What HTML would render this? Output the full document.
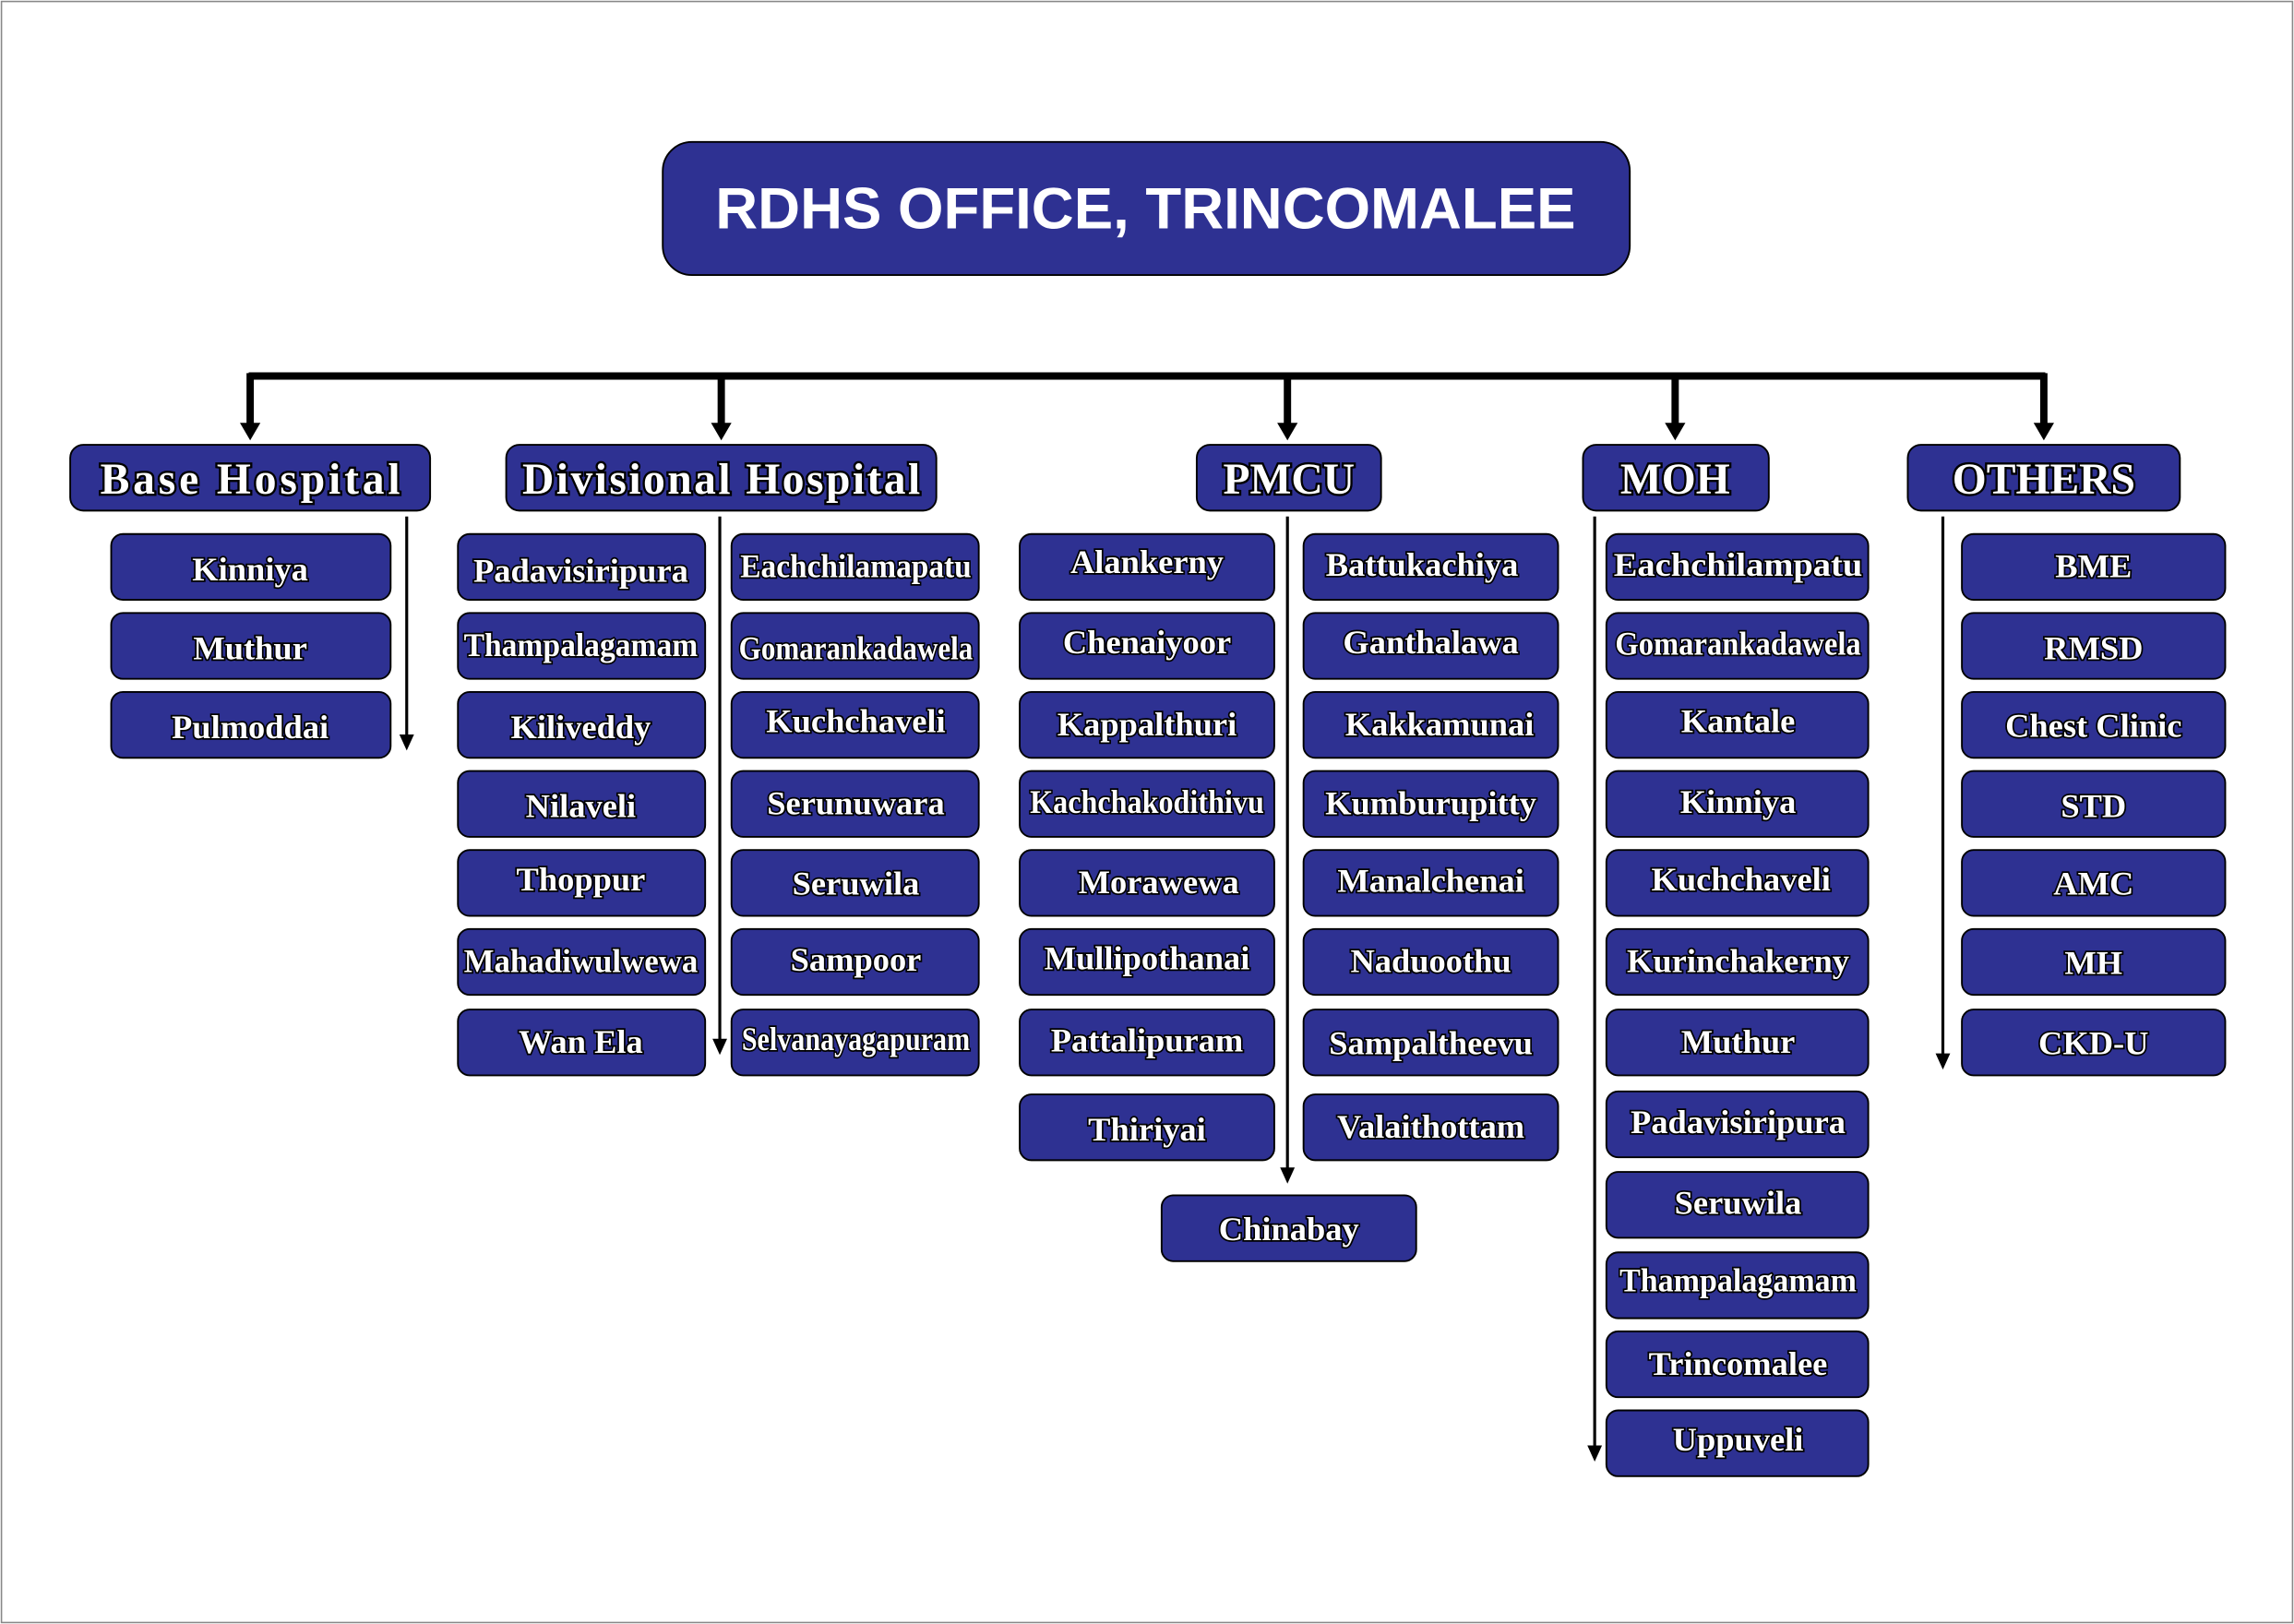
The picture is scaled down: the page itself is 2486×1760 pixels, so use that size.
<!DOCTYPE html>
<html><head><meta charset="utf-8"><style>
html,body{margin:0;padding:0;background:#fff}
svg{display:block}
.b{fill:#2e3192;stroke:#000;stroke-width:1.2}
.t{font-family:"Liberation Serif",serif;font-weight:bold;fill:#fff;stroke:#000;stroke-width:2.2;paint-order:stroke;text-anchor:middle;dominant-baseline:central;font-size:23px}
.c{font-size:30px;stroke-width:3}
.l{stroke:#000;stroke-width:2;fill:none}
</style></head><body>
<svg width="2486" height="1760" viewBox="0 0 1568 1110" preserveAspectRatio="none">
<rect x="1" y="1" width="1566" height="1108" fill="#fff" stroke="#888" stroke-width="1"/>
<rect class="b" x="453" y="97" width="661" height="91" rx="20"/>
<text x="783" y="143" text-anchor="middle" dominant-baseline="central" font-family="Liberation Sans,sans-serif" font-weight="bold" font-size="40" fill="#fff" textLength="588" lengthAdjust="spacingAndGlyphs">RDHS OFFICE, TRINCOMALEE</text>
<path d="M170 257H1398" stroke="#000" stroke-width="5"/>
<g stroke="#000" stroke-width="5">
<path d="M171 255V291M493 255V291M880 255V291M1145 255V291M1397 255V291"/></g>
<g fill="#000">
<path d="M164 289h14l-7 12z"/><path d="M486 289h14l-7 12z"/><path d="M873 289h14l-7 12z"/><path d="M1138 289h14l-7 12z"/><path d="M1390 289h14l-7 12z"/>
</g>
<rect class="b" x="48" y="304" width="246" height="45" rx="9"/><text class="t c" x="171" y="328" textLength="205" lengthAdjust="spacing">Base Hospital</text>
<rect class="b" x="346" y="304" width="294" height="45" rx="9"/><text class="t c" x="493" y="328" textLength="272" lengthAdjust="spacing">Divisional Hospital</text>
<rect class="b" x="818" y="304" width="126" height="45" rx="9"/><text class="t c" x="881" y="328">PMCU</text>
<rect class="b" x="1082" y="304" width="127" height="45" rx="9"/><text class="t c" x="1145" y="328">MOH</text>
<rect class="b" x="1304" y="304" width="186" height="45" rx="9"/><text class="t c" x="1397" y="328">OTHERS</text>
<path class="l" d="M278 353V504M492 353V712M880 353V800M1090 353V990M1328 353V722"/>
<g fill="#000">
<path d="M273 502h10l-5 11z"/><path d="M487 710h10l-5 11z"/><path d="M875 798h10l-5 11z"/><path d="M1085 988h10l-5 11z"/><path d="M1323 720h10l-5 11z"/>
</g>
<g>
<rect class="b" x="76" y="365" width="191" height="45" rx="8"/><text class="t" x="171" y="389">Kinniya</text>
<rect class="b" x="76" y="419" width="191" height="45" rx="8"/><text class="t" x="171" y="443">Muthur</text>
<rect class="b" x="76" y="473" width="191" height="45" rx="8"/><text class="t" x="171" y="497">Pulmoddai</text>
</g>
<g>
<rect class="b" x="313" y="365" width="169" height="45" rx="8"/><text class="t" x="397" y="390" font-size="21">Padavisiripura</text>
<rect class="b" x="313" y="419" width="169" height="45" rx="8"/><text class="t" x="397" y="441" textLength="160" lengthAdjust="spacingAndGlyphs">Thampalagamam</text>
<rect class="b" x="313" y="473" width="169" height="45" rx="8"/><text class="t" x="397" y="497">Kiliveddy</text>
<rect class="b" x="313" y="527" width="169" height="45" rx="8"/><text class="t" x="397" y="551">Nilaveli</text>
<rect class="b" x="313" y="581" width="169" height="45" rx="8"/><text class="t" x="397" y="601">Thoppur</text>
<rect class="b" x="313" y="635" width="169" height="45" rx="8"/><text class="t" x="397" y="657" textLength="160" lengthAdjust="spacingAndGlyphs">Mahadiwulwewa</text>
<rect class="b" x="313" y="690" width="169" height="45" rx="8"/><text class="t" x="397" y="712">Wan Ela</text>
</g>
<g>
<rect class="b" x="500" y="365" width="169" height="45" rx="8"/><text class="t" x="585" y="387" textLength="158" lengthAdjust="spacingAndGlyphs" font-size="19">Eachchilamapatu</text>
<rect class="b" x="500" y="419" width="169" height="45" rx="8"/><text class="t" x="585" y="443" textLength="160" lengthAdjust="spacingAndGlyphs" font-size="19">Gomarankadawela</text>
<rect class="b" x="500" y="473" width="169" height="45" rx="8"/><text class="t" x="585" y="493">Kuchchaveli</text>
<rect class="b" x="500" y="527" width="169" height="45" rx="8"/><text class="t" x="585" y="549">Serunuwara</text>
<rect class="b" x="500" y="581" width="169" height="45" rx="8"/><text class="t" x="585" y="604">Seruwila</text>
<rect class="b" x="500" y="635" width="169" height="45" rx="8"/><text class="t" x="585" y="656">Sampoor</text>
<rect class="b" x="500" y="690" width="169" height="45" rx="8"/><text class="t" x="585" y="710" textLength="156" lengthAdjust="spacingAndGlyphs" font-size="18">Selvanayagapuram</text>
</g>
<g>
<rect class="b" x="697" y="365" width="174" height="45" rx="8"/><text class="t" x="784" y="384">Alankerny</text>
<rect class="b" x="697" y="419" width="174" height="45" rx="8"/><text class="t" x="784" y="439">Chenaiyoor</text>
<rect class="b" x="697" y="473" width="174" height="45" rx="8"/><text class="t" x="784" y="495">Kappalthuri</text>
<rect class="b" x="697" y="527" width="174" height="45" rx="8"/><text class="t" x="784" y="548" textLength="160" lengthAdjust="spacingAndGlyphs" font-size="18">Kachchakodithivu</text>
<rect class="b" x="697" y="581" width="174" height="45" rx="8"/><text class="t" x="792" y="603">Morawewa</text>
<rect class="b" x="697" y="635" width="174" height="45" rx="8"/><text class="t" x="784" y="655">Mullipothanai</text>
<rect class="b" x="697" y="690" width="174" height="45" rx="8"/><text class="t" x="784" y="711">Pattalipuram</text>
<rect class="b" x="697" y="748" width="174" height="45" rx="8"/><text class="t" x="784" y="772">Thiriyai</text>
</g>
<g>
<rect class="b" x="891" y="365" width="174" height="45" rx="8"/><text class="t" x="972" y="386">Battukachiya</text>
<rect class="b" x="891" y="419" width="174" height="45" rx="8"/><text class="t" x="978" y="439">Ganthalawa</text>
<rect class="b" x="891" y="473" width="174" height="45" rx="8"/><text class="t" x="984" y="495">Kakkamunai</text>
<rect class="b" x="891" y="527" width="174" height="45" rx="8"/><text class="t" x="978" y="549">Kumburupitty</text>
<rect class="b" x="891" y="581" width="174" height="45" rx="8"/><text class="t" x="978" y="602">Manalchenai</text>
<rect class="b" x="891" y="635" width="174" height="45" rx="8"/><text class="t" x="978" y="657">Naduoothu</text>
<rect class="b" x="891" y="690" width="174" height="45" rx="8"/><text class="t" x="978" y="713">Sampaltheevu</text>
<rect class="b" x="891" y="748" width="174" height="45" rx="8"/><text class="t" x="978" y="770">Valaithottam</text>
</g>
<rect class="b" x="794" y="817" width="174" height="45" rx="8"/><text class="t" x="881" y="840">Chinabay</text>
<g>
<rect class="b" x="1098" y="365" width="179" height="45" rx="8"/><text class="t" x="1188" y="386" textLength="170" lengthAdjust="spacingAndGlyphs">Eachchilampatu</text>
<rect class="b" x="1098" y="419" width="179" height="45" rx="8"/><text class="t" x="1188" y="440" textLength="168" lengthAdjust="spacingAndGlyphs" font-size="19">Gomarankadawela</text>
<rect class="b" x="1098" y="473" width="179" height="45" rx="8"/><text class="t" x="1188" y="493">Kantale</text>
<rect class="b" x="1098" y="527" width="179" height="45" rx="8"/><text class="t" x="1188" y="548">Kinniya</text>
<rect class="b" x="1098" y="581" width="179" height="45" rx="8"/><text class="t" x="1190" y="601">Kuchchaveli</text>
<rect class="b" x="1098" y="635" width="179" height="45" rx="8"/><text class="t" x="1188" y="657">Kurinchakerny</text>
<rect class="b" x="1098" y="690" width="179" height="45" rx="8"/><text class="t" x="1188" y="712">Muthur</text>
<rect class="b" x="1098" y="746" width="179" height="45" rx="8"/><text class="t" x="1188" y="767">Padavisiripura</text>
<rect class="b" x="1098" y="801" width="179" height="45" rx="8"/><text class="t" x="1188" y="822">Seruwila</text>
<rect class="b" x="1098" y="856" width="179" height="45" rx="8"/><text class="t" x="1188" y="875" textLength="162" lengthAdjust="spacingAndGlyphs" font-size="20">Thampalagamam</text>
<rect class="b" x="1098" y="910" width="179" height="45" rx="8"/><text class="t" x="1188" y="932">Trincomalee</text>
<rect class="b" x="1098" y="964" width="179" height="45" rx="8"/><text class="t" x="1188" y="984">Uppuveli</text>
</g>
<g>
<rect class="b" x="1341" y="365" width="180" height="45" rx="8"/><text class="t" x="1431" y="387">BME</text>
<rect class="b" x="1341" y="419" width="180" height="45" rx="8"/><text class="t" x="1431" y="443">RMSD</text>
<rect class="b" x="1341" y="473" width="180" height="45" rx="8"/><text class="t" x="1431" y="496">Chest Clinic</text>
<rect class="b" x="1341" y="527" width="180" height="45" rx="8"/><text class="t" x="1431" y="551">STD</text>
<rect class="b" x="1341" y="581" width="180" height="45" rx="8"/><text class="t" x="1431" y="604">AMC</text>
<rect class="b" x="1341" y="635" width="180" height="45" rx="8"/><text class="t" x="1431" y="658">MH</text>
<rect class="b" x="1341" y="690" width="180" height="45" rx="8"/><text class="t" x="1431" y="713">CKD-U</text>
</g>
</svg>
</body></html>
